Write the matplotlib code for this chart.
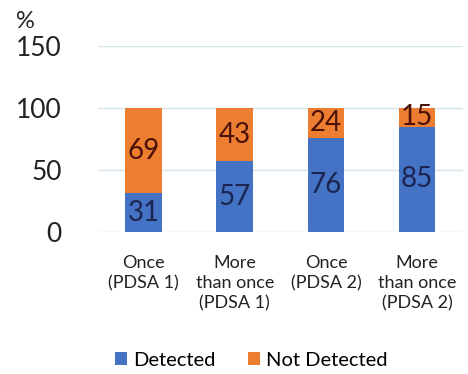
import matplotlib
matplotlib.use("Agg")
import matplotlib.pyplot as plt
import numpy as np

plt.rcParams['font.family'] = ['Lato', 'DejaVu Sans']

categories = ['Once\n(PDSA 1)', 'More\nthan once\n(PDSA 1)', 'Once\n(PDSA 2)', 'More\nthan once\n(PDSA 2)']
detected = [31, 57, 76, 85]
not_detected = [69, 43, 24, 15]
yticks = [0, 50, 100, 150]

blue = '#4472C4'
orange = '#ED7D31'

fig = plt.figure(figsize=(4.68, 3.74), dpi=100)
ax = fig.add_axes([0.209, 0.380, 0.780, 0.497])

x = np.arange(len(categories))
b1 = ax.bar(x, detected, width=0.4, color=blue, label='Detected', zorder=3)
b2 = ax.bar(x, not_detected, width=0.4, bottom=detected, color=orange, label='Not Detected', zorder=3)

# value labels in the middle of each segment
for xi, d, n in zip(x, detected, not_detected):
    ax.text(xi, d / 2, str(d), ha='center', va='center', fontsize=20, color='#1b2550', zorder=4)
    ax.text(xi, d + n / 2, str(n), ha='center', va='center', fontsize=20, color='#4a1208', zorder=4)

ax.set_xlim(-0.5, 3.5)
ax.set_ylim(0, 150)
ax.set_yticks(yticks)
ax.set_yticklabels([str(v) for v in yticks], fontsize=19, color='#222222')
ax.set_xticks(x)
ax.set_xticklabels(categories, fontsize=13, color='#222222', linespacing=1.3)
ax.tick_params(axis='y', length=0, pad=26)
ax.tick_params(axis='x', length=0, pad=17)
ax.grid(axis='y', color='#d6e4ec', linewidth=1, zorder=0)
for s in ax.spines.values():
    s.set_visible(False)

fig.text(0.035, 0.925, '%', fontsize=17, color='#222222')

fig.legend(handles=[b1, b2], loc='center', bbox_to_anchor=(0.537, 0.037), ncol=2,
           frameon=False, fontsize=14.5, handlelength=0.6, handleheight=0.6,
           handletextpad=0.3, columnspacing=1.6)

fig.savefig('out.png', dpi=100)
